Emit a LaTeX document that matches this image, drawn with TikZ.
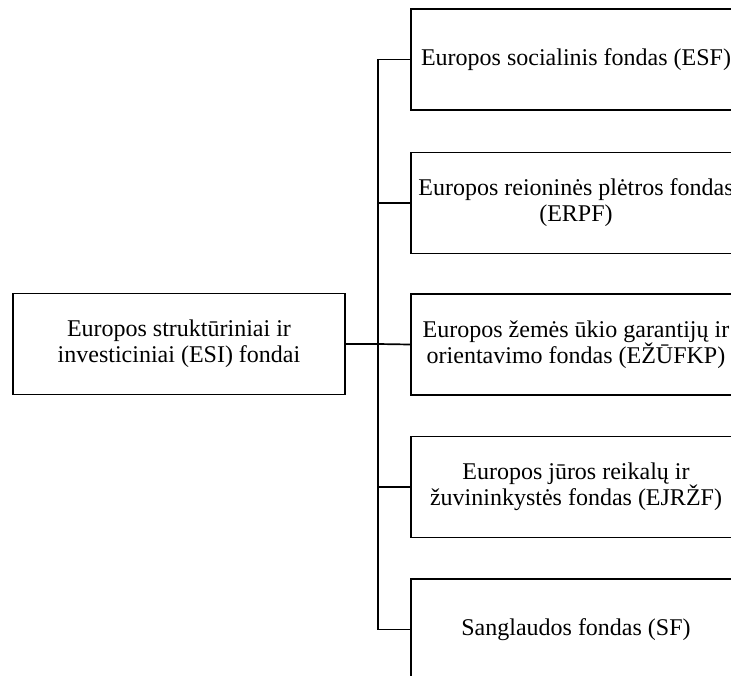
\documentclass[tikz,border=0pt]{standalone}
\usepackage{fontspec}
\setmainfont{Liberation Serif}

\tikzset{fondas/.style={draw, line width=1.7pt, minimum width=330pt, minimum height=101pt, inner sep=0pt, align=center, font=\fontsize{24}{26}\selectfont}}

\begin{document}
\begin{tikzpicture}[x=1pt,y=-1pt]
\useasboundingbox (0,0) rectangle (731,675);
\clip (0,0) rectangle (731,675);

\node[fondas, minimum width=332pt] (esi) at (179,344) {Europos strukt\=uriniai ir\\investiciniai (ESI) fondai};

\node[fondas] (esf) at (576,59.5) {Europos socialinis fondas (ESF)};
\node[fondas] (erpf) at (576,203) {Europos reioninės plėtros fondas\\(ERPF)};
\node[fondas] (ezufkp) at (576,344.5) {Europos žemės ūkio garantijų ir\\orientavimo fondas (EŽŪFKP)};
\node[fondas] (ejrzf) at (576,487) {Europos jūros reikalų ir\\žuvininkystės fondas (EJRŽF)};
\node[fondas] (sf) at (576,629.5) {Sanglaudos fondas (SF)};

\draw[line width=1.7pt] (esi.east) -- (378,344) coordinate (sakos);

\draw[line width=1.7pt] (sakos) |- (esf.west);
\draw[line width=1.7pt] (sakos) |- (erpf.west);
\draw[line width=1.7pt] (sakos) -- (ezufkp.west);
\draw[line width=1.7pt] (sakos) |- (ejrzf.west);
\draw[line width=1.7pt] (sakos) |- (sf.west);

\end{tikzpicture}
\end{document}
